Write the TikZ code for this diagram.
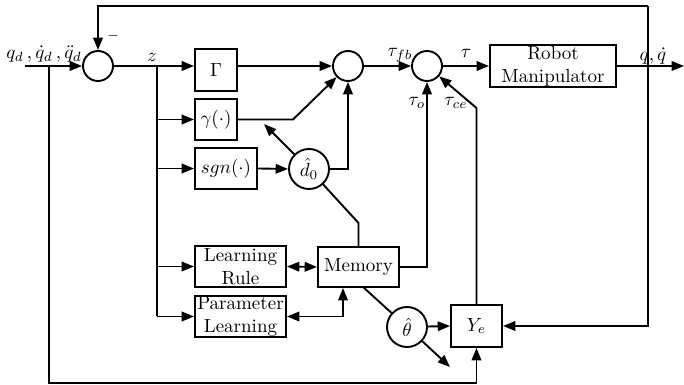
\documentclass[tikz,border=0pt]{standalone}
\usetikzlibrary{arrows.meta,calc}
\begin{document}
\begin{tikzpicture}[x=0.526pt,y=-0.526pt, line width=1pt,
  >={Triangle[length=6.5pt,width=5pt]},
  blk/.style={draw, rectangle, inner sep=0pt, align=center},
  sz/.style 2 args={minimum width=#1*0.526pt, minimum height=#2*0.526pt},
  sumc/.style={draw, circle, inner sep=0pt, minimum size=#1*0.526pt},
  lbl/.style={inner sep=0pt}]
\useasboundingbox (0,0) rectangle (684,385);
% nodes
\node[sumc=30] (s1) at (98,66) {};
\node[sumc=30] (s2) at (348,66) {};
\node[sumc=30] (s3) at (427,66) {};
\node[sumc=40] (d0) at (309,169) {$\hat{d}_0$};
\node[sumc=40] (th) at (407,327) {$\hat{\theta}$};
\node[blk, sz={42}{42}] (gam) at (216,70) {$\Gamma$};
\node[blk, sz={42}{41}] (gm) at (216,119.5) {$\gamma(\cdot)$};
\node[blk, sz={62}{41}] (sgn) at (226,168.5) {$sgn(\cdot)$};
\node[blk, sz={91}{41}] (lr) at (240.5,266.5) {Learning\\Rule};
\node[blk, sz={91}{41}] (pl) at (240.5,316.5) {Parameter\\Learning};
\node[blk, sz={81}{40}] (mem) at (358.5,267) {Memory};
\node[blk, sz={126}{42}] (rob) at (553,66) {Robot\\Manipulator};
\node[blk, sz={51}{42}] (ye) at (476.5,326) {$Y_e$};
% coordinates
\coordinate (in) at (25,66);
\coordinate (bl) at (49,66);
\coordinate (bb) at (49,383);
\coordinate (zb) at (157,66);
\coordinate (tr) at (648,6);
\coordinate (out) at (684,66);
\coordinate (gk) at (293,119.5);
\coordinate (dk) at (264,124);
\coordinate (mk) at (358.5,223);
\coordinate (ck) at (476.5,108);
\coordinate (tk) at (450,367);
\coordinate (pk) at (343,316.5);
\coordinate (mb) at (363,287);
% connectors
\draw[->] (in) -- (s1);
\draw[->] (tr) -- (tr -| s1) -- (s1.north);
\draw[->] (bl) -- (bb) -- (bb -| ye.south) -- (ye.south);
\draw (s1.east) -- (zb);
\draw[->] (zb) -- (zb -| gam.west);
\draw (zb) -- (zb |- pl);
\draw[->] (zb |- gm) -- (gm.west);
\draw[->] (zb |- sgn) -- (sgn.west);
\draw[->] (zb |- lr) -- (lr.west);
\draw[->] (zb |- pl) -- (pl.west);
\draw[->] (gam.east |- s2) -- (s2.west);
\draw[->] (gm.east) -- (gk) -- (s2);
\draw[->] (sgn.east) -- (d0.west);
\draw[->] (d0.east) -- (d0.east -| s2) -- (s2.south);
\draw[->] (d0) -- (dk);
\draw (d0) -- (mk) -- (mem.north);
\draw[->] (s2.east) -- (s3.west);
\draw[->] (s3.east) -- (rob.west);
\draw[->] (rob.east) -- (out);
\draw[->] (tr) -- (tr |- ye.east) -- (ye.east);
\draw[->] (mem.east) -- (mem.east -| s3) -- (s3.south);
\draw[->] (ye.north) -- (ck) -- (s3);
\draw[<->] (lr.east) -- (mem.west);
\draw[<->] (pl.east) -- (pk) -- (pk |- mem.south);
\draw (mb) -- (th);
\draw[->] (th) -- (ye.west);
\draw[->] (th) -- (tk);
% labels
\node[lbl] at (44,54) {$q_d\,, \dot{q}_d\,, \ddot{q}_d$};
\node[lbl] at (113,36) {$\scriptstyle -$};
\node[lbl] at (152,57) {$z$};
\node[lbl] at (400,55) {$\tau_{fb}$};
\node[lbl] at (466,53) {$\tau$};
\node[lbl] at (417,103) {$\tau_o$};
\node[lbl] at (456,103) {$\tau_{ce}$};
\node[lbl] at (653,56) {$q, \dot{q}$};
\end{tikzpicture}
\end{document}
